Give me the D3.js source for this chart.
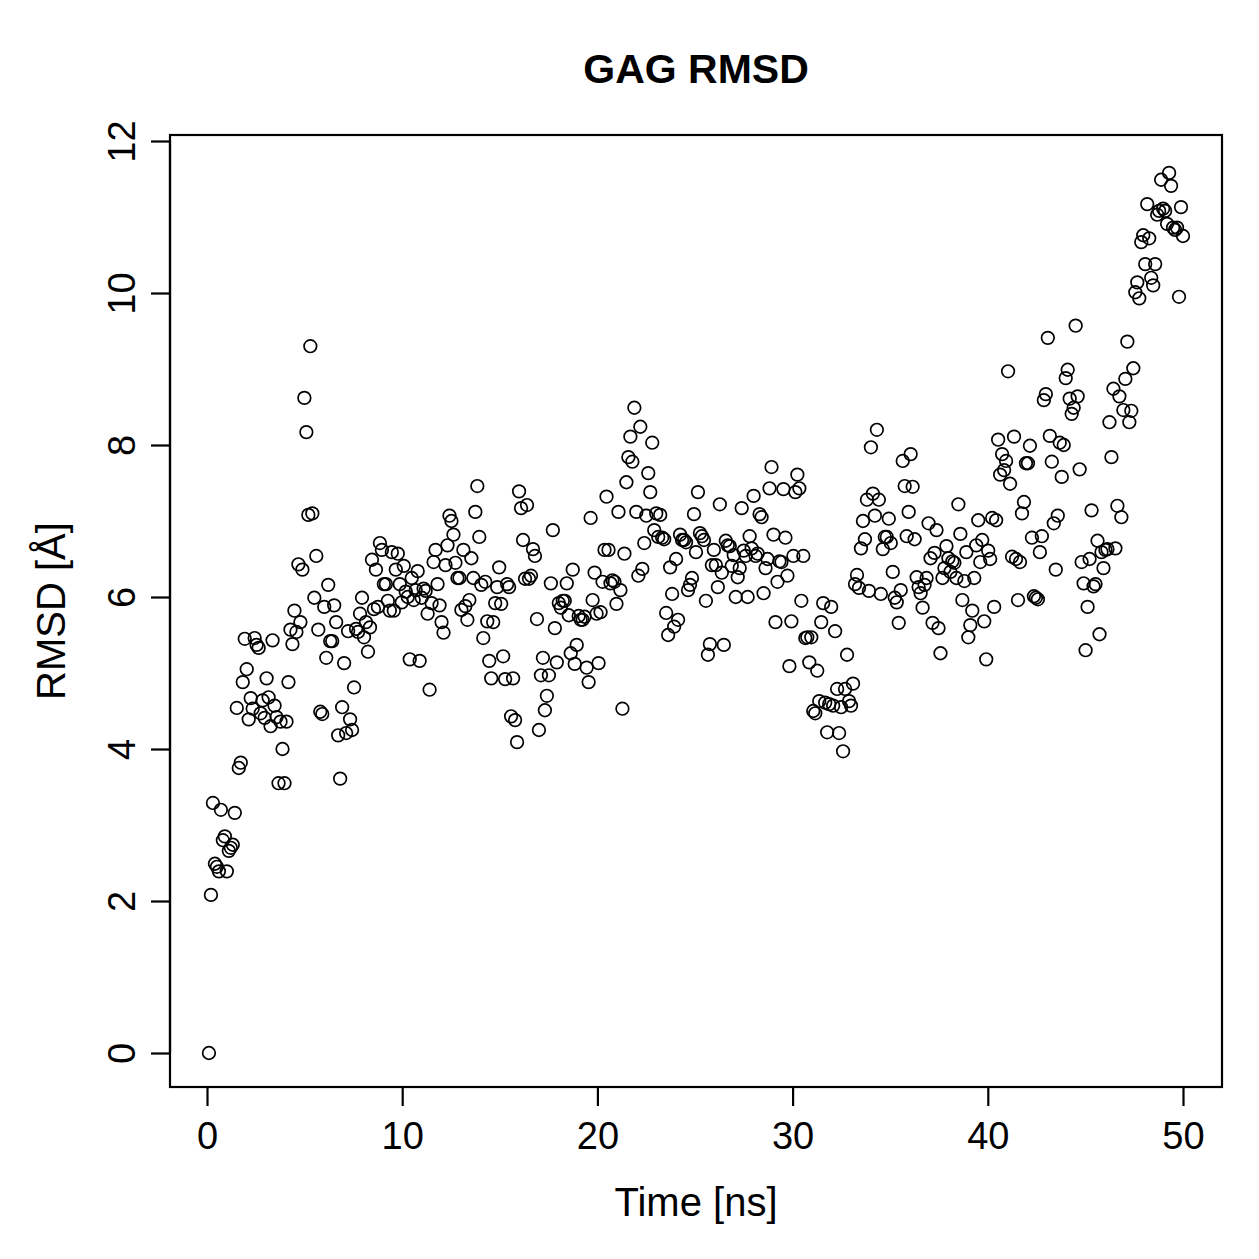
<!DOCTYPE html>
<html>
<head>
<meta charset="utf-8">
<script src="https://cdn.jsdelivr.net/npm/d3@7"></script>
<style>
  html, body { margin: 0; padding: 0; background: #fff; }
  svg { display: block; }
  text { font-family: "Liberation Sans", Arial, Helvetica, sans-serif; fill: #000; }
</style>
</head>
<body>
<script>
// ---- Data ----
const title = "GAG RMSD";
const xLabel = "Time [ns]";
const yLabel = "RMSD [Å]";
const xTicks = [0, 10, 20, 30, 40, 50];
const yTicks = [0, 2, 4, 6, 8, 10, 12];
const timeStart = 0.1;   // ns, first frame
const timeEnd = 50;      // ns, last frame
const rmsd = [
0, 2.08, 3.29, 2.49, 2.45, 2.39, 3.2, 2.8, 2.85, 2.39, 2.66, 2.7, 2.74, 3.16, 4.54, 3.75, 3.82, 4.88, 5.45, 5.05,
4.39, 4.67, 4.53, 5.46, 5.37, 5.33, 4.47, 4.64, 4.41, 4.93, 4.68, 4.3, 5.43, 4.57, 4.42, 3.55, 4.36, 4.0, 3.55, 4.36,
4.88, 5.57, 5.38, 5.82, 5.54, 6.43, 5.67, 6.36, 8.62, 8.17, 7.08, 9.30, 7.1, 5.99, 6.54, 5.57, 4.49, 4.46, 5.87, 5.2,
6.16, 5.42, 5.42, 5.89, 5.67, 4.18, 3.61, 4.55, 5.13, 4.21, 5.55, 4.39, 4.25, 4.81, 5.58, 5.54, 5.78, 5.99, 5.47, 5.67,
5.28, 5.6, 6.49, 5.84, 6.36, 5.87, 6.71, 6.62, 6.17, 6.17, 5.95, 5.82, 6.59, 5.82, 6.36, 6.57, 6.17, 5.93, 6.41, 6.07,
6.0, 5.18, 6.25, 5.96, 6.09, 6.34, 5.16, 5.99, 6.11, 6.08, 5.78, 4.78, 5.92, 6.46, 6.62, 6.17, 5.89, 5.67, 5.53, 6.42,
6.68, 7.07, 7.0, 6.82, 6.45, 6.25, 6.25, 5.83, 6.62, 5.88, 5.7, 5.96, 6.51, 6.25, 7.12, 7.46, 6.79, 6.16, 5.46, 6.2,
5.68, 5.16, 4.93, 5.67, 5.92, 6.13, 6.39, 5.91, 5.22, 4.92, 6.17, 6.13, 4.43, 4.93, 4.38, 4.09, 7.39, 7.17, 6.75, 6.24,
7.21, 6.24, 6.28, 6.63, 6.54, 5.71, 4.25, 4.97, 5.2, 4.51, 4.7, 4.97, 6.18, 6.88, 5.59, 5.14, 5.92, 5.86, 5.95, 5.95,
6.18, 5.76, 5.26, 6.36, 5.12, 5.37, 5.75, 5.7, 5.7, 5.74, 5.07, 4.88, 7.04, 5.96, 6.32, 5.78, 5.13, 5.8, 6.2, 6.62,
7.32, 6.62, 6.18, 6.22, 6.2, 5.91, 7.12, 6.09, 4.53, 6.57, 7.51, 7.84, 8.11, 7.78, 8.49, 7.12, 6.28, 8.24, 6.37, 6.71,
7.07, 7.63, 7.38, 8.03, 6.88, 7.1, 6.79, 7.08, 6.78, 6.76, 5.79, 5.5, 6.39, 6.04, 5.61, 6.5, 5.7, 6.82, 6.75, 6.75,
6.72, 6.09, 6.16, 6.25, 7.09, 6.59, 7.38, 6.84, 6.8, 6.75, 5.95, 5.24, 5.38, 6.42, 6.62, 6.42, 6.13, 7.22, 6.32, 5.37,
6.74, 6.68, 6.67, 6.41, 6.55, 6.0, 6.26, 6.38, 7.17, 6.61, 6.54, 6.0, 6.8, 6.64, 7.33, 6.54, 6.57, 7.09, 7.05, 6.05,
6.38, 6.5, 7.43, 7.71, 6.82, 5.67, 6.2, 6.47, 6.46, 7.42, 6.78, 6.28, 5.09, 5.68, 6.54, 7.38, 7.61, 7.43, 5.95, 6.54,
5.46, 5.47, 5.14, 5.47, 4.5, 4.47, 5.03, 4.63, 5.67, 5.92, 4.61, 4.22, 4.59, 5.87, 4.57, 5.55, 4.79, 4.21, 4.55, 3.97,
4.79, 5.24, 4.63, 4.57, 4.86, 6.17, 6.29, 6.12, 6.64, 7.0, 6.76, 7.28, 6.08, 7.97, 7.36, 7.07, 8.2, 7.28, 6.04, 6.63,
6.79, 6.79, 7.03, 6.71, 6.33, 5.99, 5.93, 5.66, 6.09, 7.79, 7.46, 6.8, 7.12, 7.88, 7.45, 6.76, 6.26, 6.13, 6.05, 5.86,
6.16, 6.25, 6.97, 6.51, 5.66, 6.58, 6.88, 5.59, 5.26, 6.25, 6.38, 6.67, 6.51, 6.33, 6.47, 6.45, 6.25, 7.22, 6.83, 5.96,
6.21, 6.59, 5.47, 5.63, 5.82, 6.25, 6.68, 7.01, 6.46, 6.75, 5.68, 5.18, 6.61, 6.5, 7.04, 5.87, 7.01, 8.07, 7.61, 7.88,
7.67, 7.79, 8.97, 7.49, 6.53, 8.11, 6.5, 5.96, 6.46, 7.1, 7.25, 7.76, 7.76, 7.99, 6.78, 6.01, 5.99, 5.97, 6.59, 6.8,
8.59, 8.67, 9.41, 8.12, 7.78, 6.97, 6.36, 7.07, 8.03, 7.58, 8.0, 8.88, 8.99, 8.61, 8.41, 8.49, 9.57, 8.64, 7.68, 6.46,
6.18, 5.3, 5.87, 6.5, 7.14, 6.14, 6.17, 6.74, 5.51, 6.59, 6.38, 6.62, 6.63, 8.3, 7.84, 8.74, 6.64, 7.2, 8.64, 7.05,
8.46, 8.87, 9.36, 8.3, 8.45, 9.01, 10.01, 10.14, 9.93, 10.67, 10.76, 10.38, 11.17, 10.72, 10.2, 10.1, 10.38, 11.03, 11.08, 11.49,
11.11, 11.08, 10.91, 11.58, 11.41, 10.86, 10.83, 10.86, 9.95, 11.13, 10.75
];
// evenly sampled trajectory frames
const times = rmsd.map((_, i) => timeStart + i * (timeEnd - timeStart) / (rmsd.length - 1));

// ---- Layout ----
const W = 1259, H = 1259;
const box = { left: 170, right: 1222, top: 135, bottom: 1087 };

const svg = d3.select("body").append("svg").attr("width", W).attr("height", H);

const x = d3.scaleLinear().domain([0, 50]).range([207, 1183]);
const y = d3.scaleLinear().domain([0, 12]).range([1053, 141]);

// points
svg.append("g").selectAll("circle")
  .data(rmsd)
  .join("circle")
  .attr("cx", (d, i) => x(times[i]))
  .attr("cy", d => y(d))
  .attr("r", 6.3)
  .attr("fill", "none")
  .attr("stroke", "#000")
  .attr("stroke-width", 1.7);

// box
svg.append("rect")
  .attr("x", box.left).attr("y", box.top)
  .attr("width", box.right - box.left).attr("height", box.bottom - box.top)
  .attr("fill", "none").attr("stroke", "#000").attr("stroke-width", 2.2);

// x axis
const xAxis = d3.axisBottom(x).tickValues(xTicks).tickSize(19).tickPadding(8).tickFormat(d3.format("d"));
const gx = svg.append("g").attr("transform", `translate(0,${box.bottom})`).call(xAxis);
gx.select(".domain").attr("stroke-width", 2.2).attr("d", `M${x(0)},0H${x(50)}`);
gx.selectAll(".tick line").attr("stroke-width", 2.2);
gx.selectAll(".tick text").attr("font-size", 38).attr("font-family", "Liberation Sans, Arial, sans-serif")
  .attr("dy", null).attr("y", 62);

// y axis
const yAxis = d3.axisLeft(y).tickValues(yTicks).tickSize(19).tickFormat(d3.format("d"));
const gy = svg.append("g").attr("transform", `translate(${box.left},0)`).call(yAxis);
gy.select(".domain").attr("stroke-width", 2.2).attr("d", `M0,${y(0)}V${y(12)}`);
gy.selectAll(".tick line").attr("stroke-width", 2.2);
gy.selectAll(".tick text")
  .attr("font-size", 38).attr("font-family", "Liberation Sans, Arial, sans-serif")
  .attr("x", null).attr("dy", null)
  .attr("text-anchor", "middle")
  .attr("transform", "translate(-35,0) rotate(-90)");

// title
svg.append("text").attr("x", (box.left + box.right) / 2).attr("y", 83)
  .attr("text-anchor", "middle").attr("font-weight", "bold").attr("font-size", 41)
  .text(title);

// axis labels
svg.append("text").attr("x", (box.left + box.right) / 2).attr("y", 1216)
  .attr("text-anchor", "middle").attr("font-size", 40).text(xLabel);

svg.append("text")
  .attr("transform", `translate(65,${(box.top + box.bottom) / 2}) rotate(-90)`)
  .attr("text-anchor", "middle").attr("font-size", 40).text(yLabel);
</script>
</body>
</html>
